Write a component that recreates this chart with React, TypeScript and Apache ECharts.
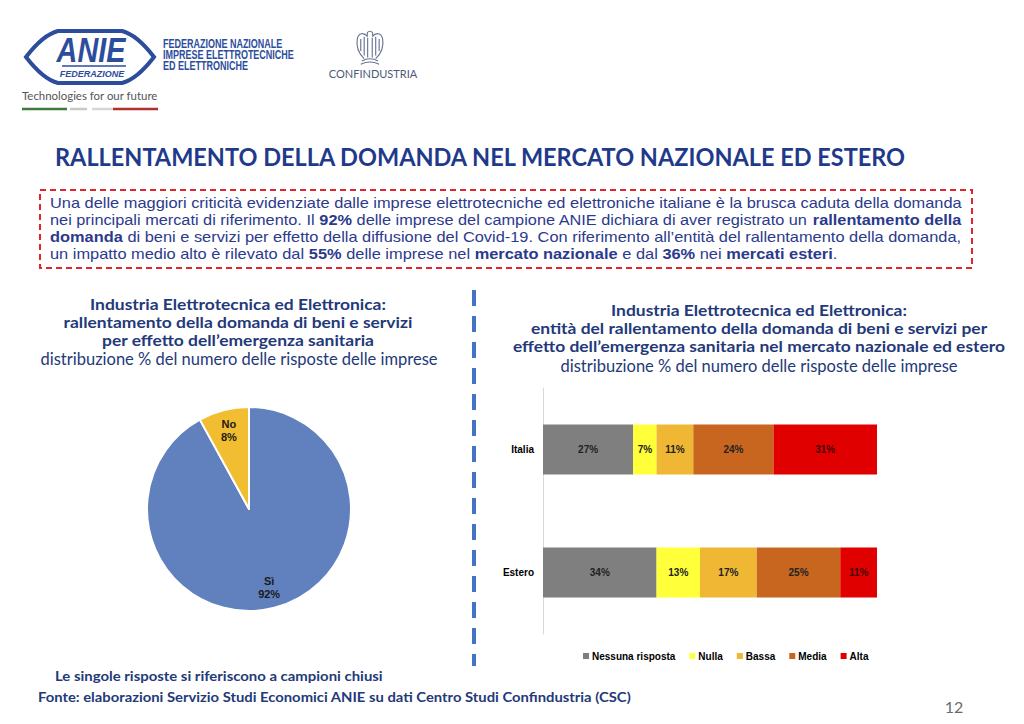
import React, { useEffect, useRef } from "react";
import * as echarts from "echarts";

// ---------- DATA ----------
const PIE_LABELS = ["Sì", "No"];
const PIE_VALUES = [92, 8];

const CATEGORIES = ["Italia", "Estero"];
const BAR_NAMES = ["Nessuna risposta", "Nulla", "Bassa", "Media", "Alta"];
const NESSUNA_RISPOSTA = [27, 34];
const NULLA = [7, 13];
const BASSA = [11, 17];
const MEDIA = [24, 25];
const ALTA = [31, 11];

const MAIN_TITLE = "RALLENTAMENTO DELLA DOMANDA NEL MERCATO NAZIONALE ED ESTERO";
const LEFT_TITLE = [
  "Industria Elettrotecnica ed Elettronica:",
  "rallentamento della domanda di beni e servizi",
  "per effetto dell’emergenza sanitaria",
];
const RIGHT_TITLE = [
  "Industria Elettrotecnica ed Elettronica:",
  "entità del rallentamento della domanda di beni e servizi per",
  "effetto dell’emergenza sanitaria nel mercato nazionale ed estero",
];
const SUBTITLE = "distribuzione % del numero delle risposte delle imprese";
const NOTE = "Le singole risposte si riferiscono a campioni chiusi";
const SOURCE = "Fonte: elaborazioni Servizio Studi Economici ANIE su dati Centro Studi Confindustria (CSC)";
const PAGE = "12";

// [text, bold]
const BOX_LINES: [string, boolean][][] = [
  [["Una delle maggiori criticità evidenziate dalle imprese elettrotecniche ed elettroniche italiane è la brusca caduta della domanda", false]],
  [
    ["nei principali mercati di riferimento. Il ", false],
    ["92%", true],
    [" delle imprese del campione ANIE dichiara di aver registrato un ", false],
    ["rallentamento della", true],
  ],
  [
    ["domanda", true],
    [" di beni e servizi per effetto della diffusione del Covid-19. Con riferimento all’entità del rallentamento della domanda,", false],
  ],
  [
    ["un impatto medio alto è rilevato dal ", false],
    ["55%", true],
    [" delle imprese nel ", false],
    ["mercato nazionale", true],
    [" e dal ", false],
    ["36%", true],
    [" nei ", false],
    ["mercati esteri", true],
    [".", false],
  ],
];

// ---------- STYLE ----------
const PIE_COLORS = ["#6181BE", "#F0BE30"];
const BAR_COLORS = ["#7F7F7F", "#FFFF3A", "#EFB733", "#C86620", "#E00000"];
const NAVY = "#23397A";
const BODY_BLUE = "#2B3A8C";

const ANIE_PATH =
  "M4 29 C 14 16, 24 6, 36 3 L 100 3 C 112 6, 122 16, 132 29 C 122 42, 112 52, 100 55 L 36 55 C 24 52, 14 42, 4 29 Z";
const EAGLE_PATH =
  "M13 2 C11 2 10 4 11 6 M13 2 C15 2 16 4 15 6 M11 7 C8 3 3 3 2 9 C1 15 3 22 8 27 M15 7 C18 3 23 3 24 9 C25 15 23 22 18 27 M5 9 L5 20 M8 7 L8 24 M11 8 L11 26 M15 8 L15 26 M18 7 L18 24 M21 9 L21 20 M6 29 Q13 25 20 29 M5 32 Q13 28 21 32";

echarts.graphic.registerShape("anieShape", echarts.graphic.extendPath(ANIE_PATH, {}));
echarts.graphic.registerShape("eagleShape", echarts.graphic.extendPath(EAGLE_PATH, {}));

let measureCtx: CanvasRenderingContext2D | null = null;
function tw(text: string, font: string): number {
  if (!measureCtx) measureCtx = document.createElement("canvas").getContext("2d");
  if (!measureCtx) return text.length * 7;
  measureCtx.font = font;
  return measureCtx.measureText(text).width;
}

const BOX_FAMILY = '"Liberation Sans", Arial, sans-serif';
const BOX_SIZE = 15;

function boxLineWidth(line: [string, boolean][]): number {
  return line.reduce(
    (s, [t, b]) => s + tw(t, `${b ? "bold" : "normal"} ${BOX_SIZE}px ${BOX_FAMILY}`),
    0
  );
}

function buildBoxTexts(): any[] {
  const target = 912;
  const baseScale = target / boxLineWidth(BOX_LINES[0]);
  const ys = [203, 220, 237, 254];
  return BOX_LINES.map((line, i) => {
    const scale = i < 3 ? target / boxLineWidth(line) : baseScale;
    const text = line.map(([t, b]) => `{${b ? "b" : "n"}|${t}}`).join("");
    return {
      type: "text",
      x: 50,
      y: ys[i],
      scaleX: scale,
      silent: true,
      style: {
        text,
        align: "left",
        verticalAlign: "middle",
        rich: {
          n: { fontSize: BOX_SIZE, fontFamily: BOX_FAMILY, fontWeight: "normal", fill: BODY_BLUE },
          b: { fontSize: BOX_SIZE, fontFamily: BOX_FAMILY, fontWeight: "bold", fill: BODY_BLUE },
        },
      },
    };
  });
}

function txt(text: string, x: number, y: number, o: any = {}): any {
  const { scaleX, scaleY, ...style } = o;
  return {
    type: "text",
    x,
    y,
    scaleX: scaleX ?? 1,
    scaleY: scaleY ?? 1,
    silent: true,
    style: { text, align: "left", verticalAlign: "middle", ...style },
  };
}

function buildOption(): any {
  const graphics: any[] = [];

  // ANIE logo
  graphics.push({
    type: "anieShape",
    x: 22,
    y: 28,
    style: { fill: "#ffffff", stroke: "#2C4D9C", lineWidth: 4 },
    silent: true,
  });
  graphics.push(
    txt("ANIE", 91, 49, {
      align: "center",
      fontSize: 36,
      fontWeight: "bold",
      fontStyle: "italic",
      fontFamily: '"Liberation Sans", Arial, sans-serif',
      fill: "#2C4D9C",
      scaleX: 0.8,
    })
  );
  graphics.push({
    type: "line",
    shape: { x1: 62, y1: 66, x2: 126, y2: 66 },
    style: { stroke: "#2C4D9C", lineWidth: 1.5 },
    silent: true,
  });
  graphics.push(
    txt("FEDERAZIONE", 92, 74, {
      align: "center",
      fontSize: 9,
      fontWeight: "bold",
      fontStyle: "italic",
      fontFamily: '"Liberation Sans", Arial, sans-serif',
      fill: "#2C4D9C",
    })
  );
  ["FEDERAZIONE NAZIONALE", "IMPRESE ELETTROTECNICHE", "ED ELETTRONICHE"].forEach((t, i) =>
    graphics.push(
      txt(t, 163, 43 + i * 11, {
        fontSize: 12.5,
        fontWeight: "bold",
        fontFamily: '"Liberation Sans", Arial, sans-serif',
        fill: "#2C4D9C",
        scaleX: 0.72,
      })
    )
  );
  graphics.push(
    txt("Technologies for our future", 22, 95, {
      fontSize: 11.5,
      fontFamily: "Lato, sans-serif",
      fill: "#555555",
      scaleX: 136 / tw("Technologies for our future", "normal 11.5px Lato"),
    })
  );
  const stripe = [
    [22, 67, "#3F7A3A"],
    [70, 87, "#C9C9C9"],
    [92, 113, "#D6D6D6"],
    [113, 158, "#B0312B"],
  ];
  stripe.forEach(([a, b, c]) =>
    graphics.push({
      type: "line",
      shape: { x1: a, y1: 109, x2: b, y2: 109 },
      style: { stroke: c, lineWidth: 2.5 },
      silent: true,
    })
  );

  // Confindustria logo
  graphics.push({
    type: "eagleShape",
    x: 355,
    y: 29,
    scaleX: 1.15,
    scaleY: 1.1,
    style: { fill: "none", stroke: "#6A7592", lineWidth: 1 },
    silent: true,
  });
  graphics.push(
    txt("CONFINDUSTRIA", 373, 73, {
      align: "center",
      fontSize: 11,
      fontFamily: "Lato, sans-serif",
      fill: "#4E5A78",
    })
  );

  // main title
  graphics.push(
    txt(MAIN_TITLE, 55, 157, {
      fontSize: 24,
      fontWeight: "bold",
      fontFamily: "Lato, sans-serif",
      fill: "#1F3A8A",
      scaleX: 853 / tw(MAIN_TITLE, "bold 24px Lato"),
    })
  );

  // dashed box
  graphics.push({
    type: "rect",
    shape: { x: 40, y: 190, width: 932, height: 78 },
    style: { fill: "none", stroke: "#E0262C", lineWidth: 2, lineDash: [6, 4] },
    silent: true,
  });
  graphics.push(...buildBoxTexts());

  const TITLE_SIZE = 16;
  const TITLE_SCALE = 1.09;
  const SUB_SIZE = 16.5;

  // left titles
  LEFT_TITLE.forEach((t, i) =>
    graphics.push(
      txt(t, 238, 304 + i * 18, {
        align: "center",
        fontSize: TITLE_SIZE,
        fontWeight: "bold",
        fontFamily: "Lato, sans-serif",
        fill: NAVY,
        scaleX: TITLE_SCALE,
      })
    )
  );
  graphics.push(
    txt(SUBTITLE, 239, 359, {
      align: "center",
      fontSize: SUB_SIZE,
      fontFamily: "Lato, sans-serif",
      fill: NAVY,
    })
  );

  // right titles
  RIGHT_TITLE.forEach((t, i) =>
    graphics.push(
      txt(t, 759, 310 + i * 18, {
        align: "center",
        fontSize: TITLE_SIZE,
        fontWeight: "bold",
        fontFamily: "Lato, sans-serif",
        fill: NAVY,
        scaleX: TITLE_SCALE,
      })
    )
  );
  graphics.push(
    txt(SUBTITLE, 759, 366, {
      align: "center",
      fontSize: SUB_SIZE,
      fontFamily: "Lato, sans-serif",
      fill: NAVY,
    })
  );

  // divider
  graphics.push({
    type: "line",
    shape: { x1: 474, y1: 290, x2: 474, y2: 666 },
    style: { stroke: "#4472C4", lineWidth: 4, lineDash: [16, 10] },
    silent: true,
  });

  // footer
  graphics.push(
    txt(NOTE, 55, 676, {
      fontSize: 13,
      fontWeight: "bold",
      fontFamily: "Lato, sans-serif",
      fill: NAVY,
      scaleX: 328 / tw(NOTE, "bold 13px Lato"),
    })
  );
  graphics.push(
    txt(SOURCE, 38, 697, {
      fontSize: 13,
      fontWeight: "bold",
      fontFamily: "Lato, sans-serif",
      fill: NAVY,
      scaleX: 594 / tw(SOURCE, "bold 13px Lato"),
    })
  );
  graphics.push(
    txt(PAGE, 954, 706, {
      align: "center",
      fontSize: 16,
      fontFamily: "Lato, sans-serif",
      fill: "#6B6B6B",
    })
  );

  const barData = [NESSUNA_RISPOSTA, NULLA, BASSA, MEDIA, ALTA];
  const labelColors = ["#222222", "#222222", "#222222", "#222222", "#4A0000"];

  const pieData = PIE_LABELS.map((n, i) => ({
    name: n,
    value: PIE_VALUES[i],
    itemStyle: { color: PIE_COLORS[i] },
  }));
  const pieLabelData = PIE_LABELS.map((n, i) => ({ name: n, value: PIE_VALUES[i] }));

  return {
    animation: false,
    backgroundColor: "#ffffff",
    textStyle: { fontFamily: '"Liberation Sans", Arial, sans-serif' },
    legend: {
      data: BAR_NAMES,
      left: 583,
      top: 651,
      padding: 0,
      icon: "rect",
      itemWidth: 6,
      itemHeight: 6,
      itemGap: 14,
      textStyle: {
        fontSize: 10,
        fontWeight: "bold",
        color: "#000000",
        padding: [0, 0, 0, -2],
      },
      selectedMode: false,
    },
    grid: { left: 543, top: 388, width: 334, height: 246, containLabel: false },
    xAxis: { type: "value", min: 0, max: 100, show: false },
    yAxis: {
      type: "category",
      data: CATEGORIES,
      inverse: true,
      axisLine: { show: true, lineStyle: { color: "#D9D9D9", width: 1 } },
      axisTick: { show: false },
      axisLabel: { fontSize: 10, fontWeight: "bold", color: "#000000", margin: 9 },
    },
    series: [
      ...BAR_NAMES.map((name, i) => ({
        type: "bar",
        name,
        stack: "total",
        barWidth: 50,
        data: barData[i],
        itemStyle: { color: BAR_COLORS[i] },
        label: {
          show: true,
          position: "inside",
          formatter: "{c}%",
          fontSize: 10,
          fontWeight: "bold",
          color: labelColors[i],
        },
        silent: true,
      })),
      {
        type: "pie",
        center: [249, 509],
        radius: 102,
        startAngle: 90,
        clockwise: true,
        data: pieData,
        label: { show: false },
        labelLine: { show: false },
        itemStyle: { borderColor: "#ffffff", borderWidth: 2 },
        silent: true,
      },
      {
        type: "pie",
        center: [249, 509],
        radius: [54, 102],
        startAngle: 90,
        clockwise: true,
        data: pieLabelData,
        itemStyle: { color: "rgba(0,0,0,0)", borderWidth: 0 },
        label: {
          show: true,
          position: "inside",
          formatter: "{b}\n{c}%",
          fontSize: 11,
          fontWeight: "bold",
          color: "#1A1A1A",
          lineHeight: 13,
        },
        labelLine: { show: false },
        silent: true,
      },
    ],
    graphic: { elements: graphics },
  };
}

export default function App() {
  const ref = useRef<HTMLDivElement>(null);
  useEffect(() => {
    if (!ref.current) return;
    const chart = echarts.init(ref.current, null, { renderer: "svg" });
    chart.setOption(buildOption());
    return () => chart.dispose();
  }, []);
  return (
    <div
      ref={ref}
      style={{ position: "fixed", left: 0, top: 0, width: 1024, height: 724, background: "#fff" }}
    />
  );
}
